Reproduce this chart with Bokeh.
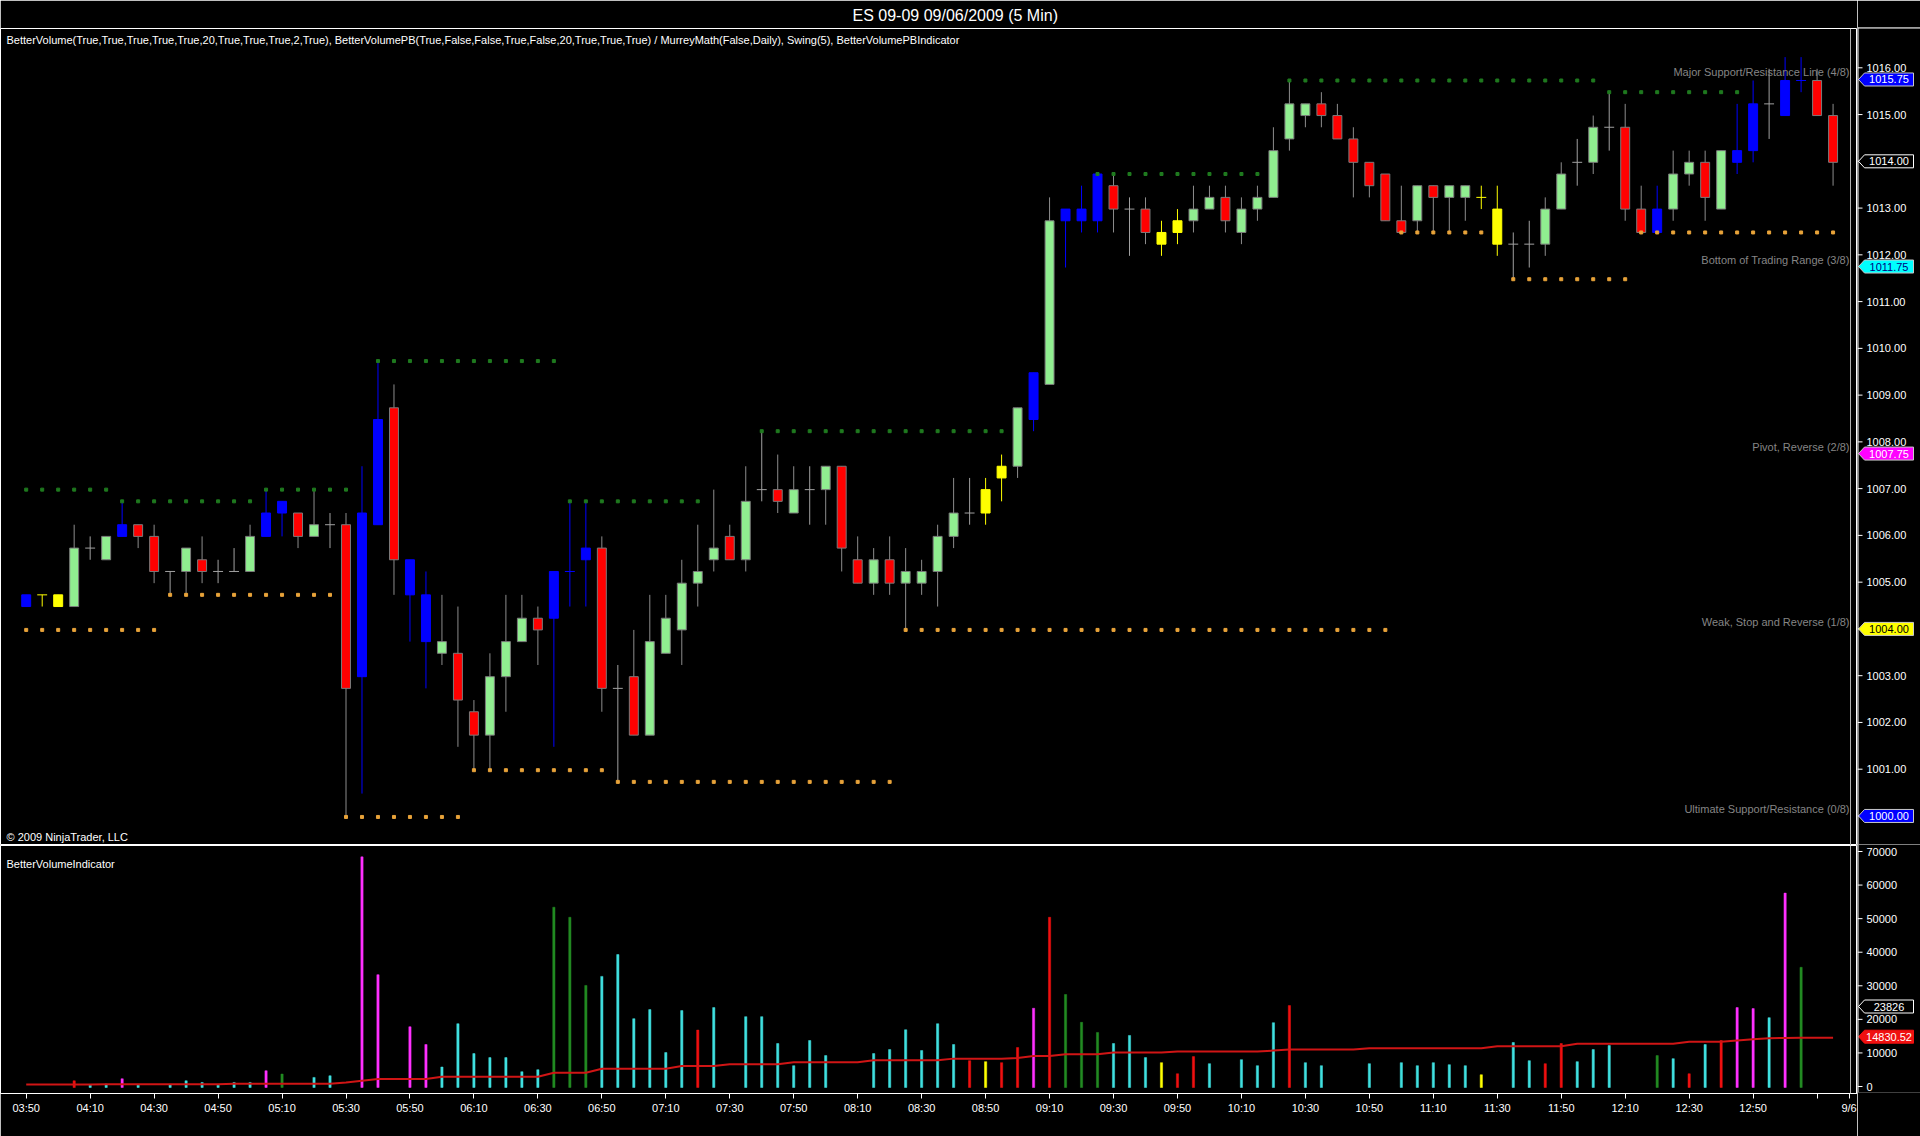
from bokeh.plotting import figure
from bokeh.layouts import column, row
from bokeh.models import Range1d, FixedTicker, Label, Span, ColumnDataSource, LinearAxis
from bokeh.core.properties import value
from bokeh.embed import file_html
from bokeh.resources import INLINE

# ---------------- data ----------------
tick_bars = [0, 4, 8, 12, 16, 20, 24, 28, 32, 36, 40, 44, 48, 52, 56, 60, 64, 68, 72, 76, 80,
             84, 88, 92, 96, 100, 104, 108, 112, 114]
tick_labels = ["03:50", "04:10", "04:30", "04:50", "05:10", "05:30", "05:50", "06:10", "06:30",
               "06:50", "07:10", "07:30", "07:50", "08:10", "08:30", "08:50", "09:10", "09:30",
               "09:50", "10:10", "10:30", "10:50", "11:10", "11:30", "11:50", "12:10", "12:30",
               "12:50", "", "9/6"]

open_ = [
    1004.5, 1004.75, 1004.75, 1004.5, 1005.75, 1005.5, 1006.0, 1006.25, 1006.0, 1005.25,
    1005.25, 1005.5, 1005.25, 1005.25, 1005.25, 1006.0, 1006.5, 1006.5, 1006.0, 1006.25,
    1006.25, 1003.0, 1006.25, 1008.75, 1005.5, 1004.75, 1003.5, 1003.5, 1002.25, 1001.75,
    1003.0, 1003.75, 1004.25, 1004.25, 1005.25, 1005.5, 1005.75, 1002.75, 1003.0, 1001.75,
    1003.5, 1004.0, 1005.0, 1005.5, 1006.0, 1005.5, 1007.0, 1007.0, 1006.5, 1007.0,
    1007.0, 1007.5, 1005.5, 1005.0, 1005.5, 1005.0, 1005.0, 1005.25, 1006.0, 1006.5,
    1006.5, 1007.25, 1007.5, 1008.5, 1009.25, 1012.75, 1012.75, 1012.75, 1013.5, 1013.0,
    1013.0, 1012.5, 1012.5, 1012.75, 1013.0, 1013.25, 1012.5, 1013.0, 1013.25, 1014.5,
    1015.0, 1015.25, 1015.0, 1014.5, 1014.0, 1013.75, 1012.75, 1012.75, 1013.5, 1013.25,
    1013.25, 1013.25, 1013.0, 1012.25, 1012.25, 1012.25, 1013.0, 1014.0, 1014.0, 1014.75,
    1014.75, 1013.0, 1012.5, 1013.0, 1013.75, 1014.0, 1013.0, 1014.0, 1014.25, 1015.25,
    1015.0, 1015.75, 1015.75, 1015.0]
high = [
    1004.75, 1004.75, 1004.75, 1006.25, 1006.0, 1006.0, 1006.75, 1006.25, 1006.25, 1005.25,
    1005.75, 1006.0, 1005.5, 1005.75, 1006.25, 1007.0, 1006.75, 1006.5, 1007.0, 1006.5,
    1006.5, 1007.5, 1009.75, 1009.25, 1005.5, 1005.25, 1004.75, 1004.5, 1002.5, 1003.5,
    1004.75, 1004.75, 1004.5, 1005.25, 1006.75, 1006.75, 1006.0, 1003.25, 1004.0, 1004.75,
    1004.75, 1005.5, 1006.25, 1007.0, 1006.25, 1007.5, 1008.25, 1007.75, 1007.5, 1007.5,
    1007.5, 1007.5, 1006.0, 1005.75, 1006.0, 1005.75, 1005.5, 1006.25, 1007.25, 1007.25,
    1007.25, 1007.75, 1008.75, 1009.5, 1013.25, 1013.0, 1013.5, 1013.75, 1013.75, 1013.25,
    1013.25, 1012.75, 1013.0, 1013.5, 1013.5, 1013.5, 1013.25, 1013.5, 1014.75, 1015.75,
    1015.25, 1015.5, 1015.25, 1014.75, 1014.0, 1013.75, 1013.5, 1013.5, 1013.5, 1013.5,
    1013.5, 1013.5, 1013.5, 1012.5, 1012.75, 1013.25, 1014.0, 1014.5, 1015.0, 1015.5,
    1015.25, 1013.5, 1013.5, 1014.25, 1014.25, 1014.25, 1014.25, 1015.25, 1015.75, 1016.0,
    1016.25, 1016.25, 1016.0, 1015.25]
low = [
    1004.5, 1004.5, 1004.5, 1004.5, 1005.5, 1005.5, 1006.0, 1005.75, 1005.0, 1004.75,
    1004.75, 1005.0, 1005.0, 1005.25, 1005.25, 1006.0, 1006.0, 1005.75, 1006.0, 1005.75,
    1000.0, 1000.5, 1006.25, 1004.75, 1003.75, 1002.75, 1003.25, 1001.5, 1001.0, 1001.0,
    1002.25, 1003.75, 1003.25, 1001.5, 1004.5, 1004.5, 1002.25, 1000.75, 1001.75, 1001.75,
    1003.5, 1003.25, 1004.5, 1005.25, 1005.5, 1005.25, 1006.75, 1006.5, 1006.5, 1006.25,
    1006.25, 1005.25, 1005.0, 1004.75, 1004.75, 1004.0, 1004.75, 1004.5, 1005.75, 1006.25,
    1006.25, 1006.75, 1007.25, 1008.25, 1009.25, 1011.75, 1012.5, 1012.5, 1012.5, 1012.0,
    1012.25, 1012.0, 1012.25, 1012.5, 1013.0, 1012.5, 1012.25, 1012.75, 1013.25, 1014.25,
    1014.75, 1014.75, 1014.5, 1013.25, 1013.25, 1012.75, 1012.5, 1012.5, 1012.5, 1012.5,
    1012.75, 1013.0, 1012.0, 1011.5, 1011.75, 1012.0, 1013.0, 1013.5, 1013.75, 1014.25,
    1012.75, 1012.5, 1012.5, 1012.75, 1013.5, 1012.75, 1013.0, 1013.75, 1014.0, 1014.5,
    1015.0, 1015.5, 1015.0, 1013.5]
close = [
    1004.75, 1004.75, 1004.5, 1005.75, 1005.75, 1006.0, 1006.25, 1006.0, 1005.25, 1005.25,
    1005.75, 1005.25, 1005.25, 1005.25, 1006.0, 1006.5, 1006.75, 1006.0, 1006.25, 1006.25,
    1002.75, 1006.5, 1008.5, 1005.5, 1004.75, 1003.75, 1003.75, 1002.5, 1001.75, 1003.0,
    1003.75, 1004.25, 1004.0, 1005.25, 1005.25, 1005.75, 1002.75, 1002.75, 1001.75, 1003.75,
    1004.25, 1005.0, 1005.25, 1005.75, 1005.5, 1006.75, 1007.0, 1006.75, 1007.0, 1007.0,
    1007.5, 1005.75, 1005.0, 1005.5, 1005.0, 1005.25, 1005.25, 1006.0, 1006.5, 1006.5,
    1007.0, 1007.5, 1008.75, 1009.5, 1012.75, 1013.0, 1013.0, 1013.75, 1013.0, 1013.0,
    1012.5, 1012.25, 1012.75, 1013.0, 1013.25, 1012.75, 1013.0, 1013.25, 1014.25, 1015.25,
    1015.25, 1015.0, 1014.5, 1014.0, 1013.5, 1012.75, 1012.5, 1013.5, 1013.25, 1013.5,
    1013.5, 1013.25, 1012.25, 1012.25, 1012.25, 1013.0, 1013.75, 1014.0, 1014.75, 1014.75,
    1013.0, 1012.5, 1013.0, 1013.75, 1014.0, 1013.25, 1014.25, 1014.25, 1015.25, 1015.25,
    1015.75, 1015.75, 1015.0, 1014.0]
# candle class: G up, R down, B / Y volume-signal colours, D neutral doji
candle_class = list("BYYGDGBRRD" "GRDDGBBRGD" "RBBRBBGRRG" "GGRBBBRDRG" "GGGGRGDRGD"
                    "GRRGRGGGGD" "YYGBGBBBRD" "RYYGGRGGGG" "GRRRRRRGRG" "GYYDDGGDGD"
                    "RRBGGRGBBD" "BBRR")

volume = [
    None, None, None, 2000, 700, 1000, 2600, 700, None, 800,
    2000, 1500, 700, 1500, 1500, 5000, 4000, None, 3000, 3500,
    None, 68700, 33600, None, 18100, 12800, 6100, 19000, 10100, 8900,
    8900, 4700, 5300, 53700, 50700, 30400, 33100, 39600, 20500, 23200,
    10400, 22900, 17100, 23800, None, 21100, 21100, 13100, 6500, 14000,
    9500, None, None, 10100, 11300, 17200, 11000, 19000, 12800, 8000,
    7700, 7400, 11900, 23600, 50700, 27700, 19400, 16400, 13100, 15500,
    8900, 7400, 4100, 9200, 7100, None, 8300, 6500, 19300, 24400,
    7400, 6500, None, None, 7100, None, 7400, 6500, 7400, 6800,
    6500, 3800, None, 13400, 8000, 7100, 13100, 7700, 11300, 12500,
    None, None, 9500, 8600, 4100, 12800, 14000, 23800, 23500, 20800,
    57900, 35800, None, 23826]
volume_class = list("kkkrccmckc" "cccccmgkcc" "kmmkmmcccc" "cccgggcccc" "ccrckccccc"
                    "ckkccccccr" "yrrmrgggcc" "cyrrckcccr" "cckkckcccc" "cykccrrccc"
                    "kkgcrcrmmc" "mgkk")
volume_avg = [
    900, 900, 900, 900, 900, 1000, 1000, 1000, 1000, 1000,
    1000, 1000, 1000, 1100, 1100, 1100, 1100, 1100, 1100, 1100,
    1500, 2000, 2500, 2500, 2500, 2500, 3200, 3200, 3200, 3200,
    3200, 3200, 3200, 4400, 4400, 4400, 5600, 5600, 5600, 5600,
    5600, 6400, 6400, 6400, 6900, 6900, 6900, 6900, 7500, 7500,
    7500, 7500, 7500, 8100, 8100, 8100, 8100, 8100, 8600, 8600,
    8600, 8600, 8800, 9400, 9400, 9900, 9900, 9900, 10400, 10400,
    10400, 10400, 10700, 10700, 10700, 10700, 10700, 10700, 11000, 11300,
    11300, 11300, 11300, 11300, 11700, 11700, 11700, 11700, 11700, 11700,
    11700, 11700, 12300, 12300, 12300, 12300, 12300, 13000, 13000, 13000,
    13000, 13000, 13000, 13000, 13600, 13600, 13600, 14000, 14400, 14700,
    14750, 14800, 14820, 14830.52]

# swing lines: (first bar, last bar, price)
swing_highs = [(0, 5, 1007.0), (6, 14, 1006.75), (15, 20, 1007.0), (22, 33, 1009.75),
               (34, 42, 1006.75), (46, 61, 1008.25), (67, 77, 1013.75), (79, 98, 1015.75),
               (99, 107, 1015.5)]
swing_lows = [(0, 8, 1004.0), (9, 19, 1004.75), (20, 27, 1000.0), (28, 36, 1001.0),
              (37, 54, 1000.75), (55, 85, 1004.0), (86, 91, 1012.5), (93, 100, 1011.5),
              (101, 113, 1012.5)]

murrey_levels = [1015.75, 1011.75, 1007.75, 1004.0, 1000.0]
murrey_names = ["Major Support/Resistance Line (4/8)", "Bottom of Trading Range (3/8)",
                "Pivot, Reverse (2/8)", "Weak, Stop and Reverse (1/8)",
                "Ultimate Support/Resistance (0/8)"]
murrey_tag_fill = ["#0000FF", "#00FFFF", "#FF00FF", "#FFFF00", "#0000FF"]
murrey_tag_text = ["white", "#000080", "white", "black", "white"]

price_ticks = [1000, 1001, 1002, 1003, 1004, 1005, 1006, 1007, 1008, 1009, 1010, 1011, 1012,
               1013, 1014, 1015, 1016]
volume_ticks = [0, 10000, 20000, 30000, 40000, 50000, 60000, 70000]

# ---------------- geometry (page pixels) ----------------
X0_PX, BAR_PX = 25.7, 15.99
P_REF, P_REF_PX, P_PX = 1016.0, 67.3, 46.76
V_ZERO_PX, V_PX = 1086.0, 235.0 / 70000.0
FRAME_W, AXIS_W = 1857, 63
TOP, SEP, BOT = 27, 844, 1092
H_TOTAL = 1136


def xd(px):
    return (px - X0_PX) / BAR_PX


def pd(py):
    return P_REF - (py - P_REF_PX) / P_PX


def vd(py):
    return (V_ZERO_PX - py) / V_PX


xr = Range1d(xd(0), xd(FRAME_W))
price_range = Range1d(pd(SEP), pd(TOP))
vol_range = Range1d(vd(BOT), vd(SEP))

SANS = "Liberation Sans"

col = {"G": "#90EE90", "R": "#FF0000", "B": "#0000FF", "Y": "#FFFF00", "D": "#A0A0A0"}
wick_col = {"G": "#8C8C8C", "R": "#8C8C8C", "B": "#0000FF", "Y": "#FFFF00", "D": "#A0A0A0"}
edge_col = {"G": "#7A7A7A", "R": "#7A7A7A", "B": "#0000FF", "Y": "#FFFF00", "D": "#A0A0A0"}
vcol = {"c": "#40E0E0", "m": "#FF30FF", "r": "#F01010", "g": "#228B22", "y": "#FFFF00"}


def base_fig(fw, fh, xrange, yrange, top, bottom):
    f = figure(frame_width=fw, frame_height=fh, x_range=xrange, y_range=yrange,
               output_backend="svg", toolbar_location=None, x_axis_location=None,
               y_axis_location=None, min_border_left=0, min_border_right=0,
               min_border_top=top, min_border_bottom=bottom,
               background_fill_color="black", border_fill_color="black",
               outline_line_color="white")
    f.grid.visible = False
    return f


# ---------------- price panel ----------------
p = base_fig(FRAME_W, SEP - TOP, xr, price_range, TOP, 0)
p.title.text = "ES 09-09  09/06/2009 (5 Min)"
p.title.text_color = "white"
p.title.text_font = SANS
p.title.text_font_size = "16px"
p.title.text_font_style = "normal"
p.title.align = "left"
p.title.offset = 852
p.title.standoff = 9

idx = list(range(len(open_)))
wick = ColumnDataSource(dict(x=idx, lo=low, hi=high, c=[wick_col[k] for k in candle_class]))
p.segment(x0="x", y0="lo", x1="x", y1="hi", line_color="c", line_width=1, source=wick)

body_i = [i for i in idx if open_[i] != close[i]]
body = ColumnDataSource(dict(
    x=body_i,
    top=[max(open_[i], close[i]) for i in body_i],
    bottom=[min(open_[i], close[i]) for i in body_i],
    f=[col[candle_class[i]] for i in body_i],
    e=[edge_col[candle_class[i]] for i in body_i]))
p.vbar(x="x", width=0.56, top="top", bottom="bottom", fill_color="f", line_color="e",
       line_width=1, source=body)

doji_i = [i for i in idx if open_[i] == close[i]]
doji = ColumnDataSource(dict(
    x0=[i - 0.31 for i in doji_i], x1=[i + 0.31 for i in doji_i],
    y=[close[i] for i in doji_i], c=[wick_col[candle_class[i]] for i in doji_i]))
p.segment(x0="x0", y0="y", x1="x1", y1="y", line_color="c", line_width=1, source=doji)

for segs, color in ((swing_highs, "#1F7A1F"), (swing_lows, "#E8A33A")):
    xs, ys = [], []
    for a, b, lev in segs:
        for i in range(a, b + 1):
            xs.append(i)
            ys.append(lev)
    p.scatter(xs, ys, marker="square", size=3, fill_color=color, line_color=color)

for lev, name in zip(murrey_levels, murrey_names):
    p.add_layout(Label(x=xd(1849), y=lev + 2 / P_PX, text=name, text_align="right",
                       text_baseline="bottom", text_color="#858585", text_font=SANS,
                       text_font_size="11px"))

p.add_layout(Label(x=xd(6), y=pd(38), text=(
    "BetterVolume(True,True,True,True,True,20,True,True,True,2,True), "
    "BetterVolumePB(True,False,False,True,False,20,True,True,True) / "
    "MurreyMath(False,Daily), Swing(5), BetterVolumePBIndicator"),
    text_align="left", text_baseline="middle", text_color="white", text_font=SANS,
    text_font_size="11px"))
p.add_layout(Label(x=xd(6), y=pd(835), text="\u00a9 2009 NinjaTrader, LLC",
                   text_align="left", text_baseline="middle", text_color="white",
                   text_font=SANS, text_font_size="11px"))
p.add_layout(Span(location=xd(1850), dimension="height", line_color="#B0B0B0", line_width=1))

# ---------------- volume panel ----------------
v = base_fig(FRAME_W, BOT - SEP, xr, vol_range, 0, H_TOTAL - BOT)
xax = LinearAxis(ticker=FixedTicker(ticks=tick_bars),
                 major_label_overrides={b: t for b, t in zip(tick_bars, tick_labels)})
xax.axis_line_color = "white"
xax.major_tick_line_color = "white"
xax.minor_tick_line_color = None
xax.major_tick_out = 5
xax.major_tick_in = 0
xax.major_label_text_color = "white"
xax.major_label_text_font = SANS
xax.major_label_text_font_size = "11px"
xax.major_label_standoff = 3
v.add_layout(xax, "below")

vol_i = [i for i in idx if volume[i] is not None and volume_class[i] != "k"]
vs = ColumnDataSource(dict(x=vol_i, top=[volume[i] for i in vol_i],
                           c=[vcol[volume_class[i]] for i in vol_i]))
v.vbar(x="x", width=0.14, top="top", bottom=0, fill_color="c", line_color="c",
       line_width=0.5, source=vs)
v.line(idx, volume_avg, line_color="#D01515", line_width=2)

v.add_layout(Label(x=xd(6), y=vd(862), text="BetterVolumeIndicator", text_align="left",
                   text_baseline="middle", text_color="white", text_font=SANS,
                   text_font_size="11px"))
v.add_layout(Span(location=xd(1850), dimension="height", line_color="#B0B0B0", line_width=1))

# ---------------- right-hand value scales (share the y ranges) ----------------
ax_x = Range1d(0, AXIS_W)


def scale_fig(yrange, fh, top, bottom, ticks, fmt, tags, half_h):
    f = base_fig(AXIS_W, fh, ax_x, yrange, top, bottom)
    f.outline_line_color = None
    f.add_layout(Span(location=0.5, dimension="height", line_color="white", line_width=1))
    f.segment(x0=[0] * len(ticks), x1=[5] * len(ticks), y0=ticks, y1=ticks,
              line_color="white", line_width=1)
    f.text(x=[9] * len(ticks), y=ticks, text=[fmt % t for t in ticks], text_color="white",
           text_font=value(SANS), text_font_size="11px", text_align="left",
           text_baseline="middle")
    for lev, txt, bg, fg, edge in tags:
        f.patch([1, 7, 56, 56, 7], [lev, lev + half_h, lev + half_h, lev - half_h, lev - half_h],
                fill_color=bg, line_color=edge, line_width=1)
        f.text(x=[31.5], y=[lev], text=[txt], text_color=fg, text_font=value(SANS),
               text_font_size="11px", text_align="center", text_baseline="middle")
    return f


price_tags = [(lev, "%.2f" % lev, bg, fg, "#C8C8C8")
              for lev, bg, fg in zip(murrey_levels, murrey_tag_fill, murrey_tag_text)]
price_tags.append((close[-1], "%.2f" % close[-1], "black", "white", "white"))
pa = scale_fig(price_range, SEP - TOP, TOP, 0, price_ticks, "%.2f", price_tags, 6.5 / P_PX)
pa.add_layout(Span(location=price_range.end, dimension="width", line_color="white",
                   line_width=2))

vol_tags = [(volume[-1], "%d" % volume[-1], "black", "white", "white"),
            (volume_avg[-1], "%.2f" % volume_avg[-1], "#F01010", "white", "#F01010")]
va = scale_fig(vol_range, BOT - SEP, 0, H_TOTAL - BOT, volume_ticks, "%d", vol_tags,
               6.5 * (70000.0 / 235.0))

layout = row(column(p, v, spacing=0), column(pa, va, spacing=0), spacing=0)
open("out.html", "w").write(file_html(layout, INLINE))
